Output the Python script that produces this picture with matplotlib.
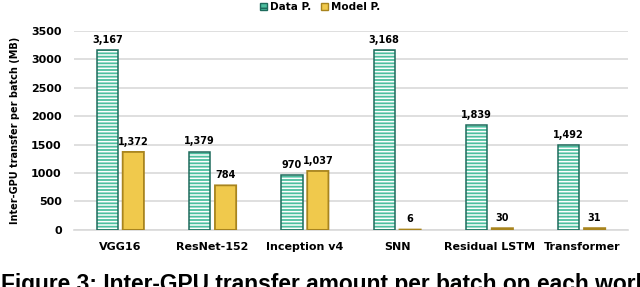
import matplotlib.pyplot as plt
import numpy as np

workloads = ["VGG16", "ResNet-152", "Inception v4", "SNN", "Residual LSTM", "Transformer"]
data_p = [3167, 1379, 970, 3168, 1839, 1492]
model_p = [1372, 784, 1037, 6, 30, 31]

plt.rcParams["font.family"] = "DejaVu Sans"
plt.rcParams["hatch.linewidth"] = 1.1

fig = plt.figure(figsize=(6.4, 2.87), dpi=100)
ax = fig.add_axes([0.116, 0.199, 0.865, 0.693])

x = np.arange(len(workloads))
w = 0.23
off = 0.14
teal_edge = "#1e6b5c"
gold_edge = "#a8841e"

# hatch in white, then outline separately
ax.bar(x - off, data_p, w, color="#4dbf9f", edgecolor="white", linewidth=0,
       hatch="-----", zorder=3)
ax.bar(x - off, data_p, w, fill=False, edgecolor=teal_edge, linewidth=1.1, zorder=4)
ax.bar(x + off, model_p, w, color="#f0c94c", edgecolor=gold_edge, linewidth=1.3,
       zorder=3, snap=False)

for xi, v in zip(x - off, data_p):
    ax.text(xi, v + 90, f"{v:,}", ha="center", va="bottom", fontsize=7, fontweight="bold")
for xi, v in zip(x + off, model_p):
    ax.text(xi, v + 90, f"{v:,}", ha="center", va="bottom", fontsize=7, fontweight="bold")

ax.set_xlim(-0.5, 5.5)
ax.set_ylim(0, 3500)
ax.set_yticks(range(0, 3501, 500))
ax.set_xticks(x)
ax.set_xticklabels(workloads, fontsize=8, fontweight="bold")
ax.tick_params(axis="y", labelsize=8, length=0, pad=9)
ax.tick_params(axis="x", length=0, pad=9)
for lbl in ax.get_yticklabels():
    lbl.set_fontweight("bold")
ax.yaxis.grid(True, color="#d9d9d9", linewidth=1.2, zorder=0)
for s in ["top", "right", "left"]:
    ax.spines[s].set_visible(False)
ax.spines["bottom"].set_color("#d9d9d9")
ax.spines["bottom"].set_linewidth(1.2)
ax.spines["bottom"].set_zorder(1)

ax.set_ylabel("Inter-GPU transfer per batch (MB)", fontsize=7, fontweight="bold", labelpad=8)

h1 = plt.Rectangle((0, 0), 1, 1, facecolor="#4dbf9f", edgecolor=teal_edge, hatch="---", linewidth=1)
h2 = plt.Rectangle((0, 0), 1, 1, facecolor="#f0c94c", edgecolor=gold_edge, linewidth=1)
fig.legend(handles=[h1, h2], labels=["Data P.", "Model P."], loc="center",
           bbox_to_anchor=(0.50, 0.975), ncol=2, frameon=False,
           handlelength=0.7, handleheight=0.7, handletextpad=0.3, columnspacing=0.9,
           borderaxespad=0, borderpad=0, prop={"weight": "bold", "size": 7.5})

fig.text(0.002, -0.014, "Figure 3: Inter-GPU transfer amount per batch on each work",
         fontsize=16.4, fontweight="bold", family="Liberation Sans", ha="left", va="baseline")

fig.savefig("out.png", dpi=100)
